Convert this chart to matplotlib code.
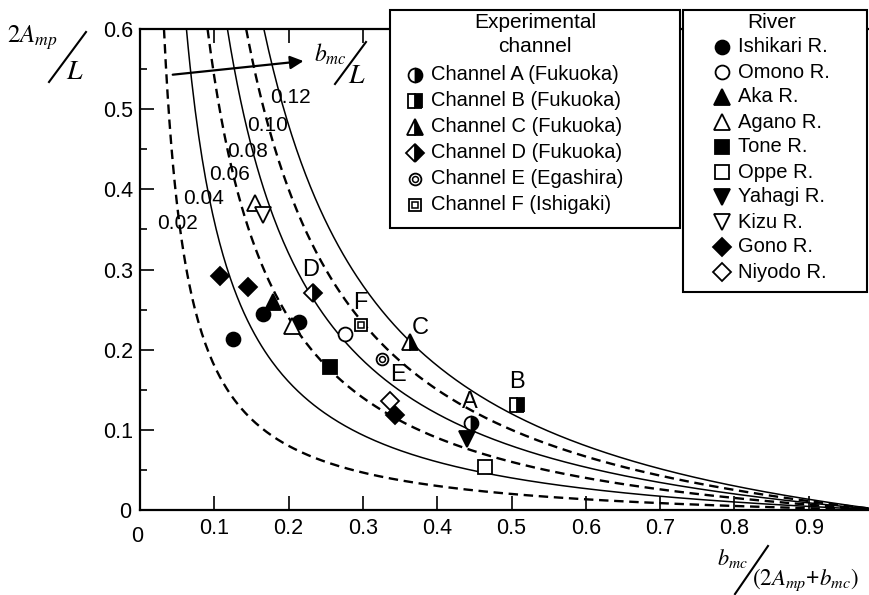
import numpy as np
import matplotlib
matplotlib.use("Agg")
import matplotlib.pyplot as plt
from matplotlib.patches import Rectangle

plt.rcParams["font.family"] = ["Liberation Sans", "DejaVu Sans"]
plt.rcParams["mathtext.fontset"] = "stix"

# theoretical curves, parameter b_mc/L
curve_c = [0.02, 0.04, 0.06, 0.08, 0.10, 0.12]
curve_dashed = [True, False, True, False, True, False]
curve_label = ["0.02", "0.04", "0.06", "0.08", "0.10", "0.12"]
curve_label_x = [0.050, 0.085, 0.121, 0.145, 0.172, 0.202]
curve_label_y = [0.358, 0.388, 0.418, 0.447, 0.480, 0.514]

# river data
river_names = ["Ishikari R.", "Omono R.", "Aka R.", "Agano R.", "Tone R.",
               "Oppe R.", "Yahagi R.", "Kizu R.", "Gono R.", "Niyodo R."]
river_x = [[0.125, 0.166, 0.214], [0.276], [0.179], [0.204, 0.155], [0.256],
           [0.464], [0.440], [0.166], [0.108, 0.146, 0.343], [0.336]]
river_y = [[0.213, 0.245, 0.235], [0.220], [0.260], [0.229, 0.383], [0.178],
           [0.054], [0.088], [0.368], [0.292, 0.278, 0.118], [0.136]]
river_marker = ["o", "o", "^", "^", "s", "s", "v", "v", "D", "D"]
river_face = ["k", "w", "k", "w", "k", "w", "k", "w", "k", "w"]

# experimental channel data
channel_names = ["Channel A (Fukuoka)", "Channel B (Fukuoka)", "Channel C (Fukuoka)",
                 "Channel D (Fukuoka)", "Channel E (Egashira)", "Channel F (Ishigaki)"]
channel_letter = ["A", "B", "C", "D", "E", "F"]
channel_x = [0.446, 0.507, 0.364, 0.233, 0.325, 0.298]
channel_y = [0.109, 0.131, 0.210, 0.271, 0.188, 0.231]
letter_x = [0.444, 0.507, 0.377, 0.229, 0.347, 0.296]
letter_y = [0.135, 0.160, 0.227, 0.299, 0.168, 0.258]
channel_marker = ["o", "s", "^", "D", "o", "s"]
channel_half = [True, True, True, True, False, False]

ms_of = {"o": 10, "s": 10, "^": 11, "v": 11, "D": 9.5}


def river_point(a, x, y, i):
    m = river_marker[i]
    a.plot(x, y, ls="none", marker=m, ms=ms_of[m], mfc=river_face[i],
           mec="k", mew=1.3, zorder=4)


def channel_point(a, x, y, i):
    m = channel_marker[i]
    if channel_half[i]:
        a.plot(x, y, ls="none", marker=m, ms=ms_of[m], fillstyle="right",
               mfc="k", mfcalt="w", mec="k", mew=1.3, zorder=4)
    else:
        outer = 9 if m == "s" else 8.5
        a.plot(x, y, ls="none", marker=m, ms=outer, mfc="w", mec="k",
               mew=1.3, zorder=4)
        a.plot(x, y, ls="none", marker=m, ms=outer * 0.5, mfc="w", mec="k",
               mew=1.1, zorder=5)


fig = plt.figure(figsize=(8.69, 5.95), dpi=100)
W, H = 869, 595
ax = fig.add_axes([140 / W, (H - 510) / H, 729 / W, 481 / H])
ax.set_xlim(0, 0.981)
ax.set_ylim(0, 0.6)

for c, dashed in zip(curve_c, curve_dashed):
    xs = np.linspace(c / (0.6 + c), 1.0, 400)
    if dashed:
        ax.plot(xs, c * (1 - xs) / xs, color="k", lw=1.7, dashes=(4.0, 2.4))
    else:
        ax.plot(xs, c * (1 - xs) / xs, color="k", lw=1.1)

for lab, lx, ly in zip(curve_label, curve_label_x, curve_label_y):
    ax.text(lx, ly, lab, fontsize=15, ha="center", va="center")

for i in range(len(river_names)):
    river_point(ax, river_x[i], river_y[i], i)
for i in range(len(channel_names)):
    channel_point(ax, [channel_x[i]], [channel_y[i]], i)
    ax.text(letter_x[i], letter_y[i], channel_letter[i], fontsize=17,
            ha="center", va="center")

ax.annotate("", xy=(0.220, 0.560), xytext=(0.044, 0.543),
            arrowprops=dict(arrowstyle="-|>", color="k", lw=1.6,
                            mutation_scale=20, shrinkA=0, shrinkB=0))

ax.set_xticks(np.round(np.arange(0.1, 0.95, 0.1), 1))
ax.set_xticklabels(["%.1f" % v for v in np.arange(0.1, 0.95, 0.1)])
ax.set_yticks(np.round(np.arange(0.1, 0.65, 0.1), 1))
ax.set_yticklabels(["%.1f" % v for v in np.arange(0.1, 0.65, 0.1)])
ax.set_yticks(np.arange(0.05, 0.6, 0.1), minor=True)
ax.tick_params(which="major", direction="in", length=10, width=1.2,
               labelsize=15.5, top=True, right=False)
ax.tick_params(axis="x", pad=6)
ax.tick_params(axis="y", pad=5)
ax.tick_params(which="minor", direction="in", length=5, width=1.2, right=False)
ax.spines["right"].set_visible(False)
for s in ["left", "bottom", "top"]:
    ax.spines[s].set_linewidth(1.6)

# overlay in pixel coordinates for boxes and axis labels
ov = fig.add_axes([0, 0, 1, 1], zorder=5)
ov.set_xlim(0, W)
ov.set_ylim(H, 0)
ov.axis("off")
ov.patch.set_alpha(0)

ov.text(137, 536, "0", fontsize=15.5, ha="center", va="center")
ov.text(125, 512, "0", fontsize=15.5, ha="center", va="center")

# y label
ov.text(7, 38, "$2A_{mp}$", fontsize=18, ha="left", va="center")
ov.plot([49, 86], [82, 32], color="k", lw=1.5)
ov.text(75, 72, "$L$", fontsize=20, ha="center", va="center")
# arrow label
ov.text(314, 54, "$b_{mc}$", fontsize=17, ha="left", va="center")
ov.plot([335, 366], [84, 42], color="k", lw=1.5)
ov.text(357, 76, "$L$", fontsize=20, ha="center", va="center")
# x label
ov.text(717, 558, "$b_{mc}$", fontsize=16, ha="left", va="center")
ov.plot([735, 768], [594, 546], color="k", lw=1.5)
ov.text(752, 580, "$(2A_{mp}$+$b_{mc})$", fontsize=16.5, ha="left", va="center")

# experimental channel box
ov.add_patch(Rectangle((390, 10), 290, 218, fc="w", ec="k", lw=1.5, zorder=2))
ov.text(535, 22, "Experimental", fontsize=15, ha="center", va="center", zorder=3)
ov.text(535, 47, "channel", fontsize=15, ha="center", va="center", zorder=3)
for i, name in enumerate(channel_names):
    yy = 75 + 26 * i
    channel_point(ov, [415], [yy], i)
    ov.text(431, yy, name, fontsize=14.5, ha="left", va="center", zorder=3)

# river box
ov.add_patch(Rectangle((683, 10), 184, 282, fc="w", ec="k", lw=1.5, zorder=2))
ov.text(772, 22, "River", fontsize=15, ha="center", va="center", zorder=3)
for i, name in enumerate(river_names):
    yy = 47 + 25 * i
    river_point(ov, [722], [yy], i)
    ov.text(738, yy, name, fontsize=14.5, ha="left", va="center", zorder=3)

fig.savefig("out.png", dpi=100)
